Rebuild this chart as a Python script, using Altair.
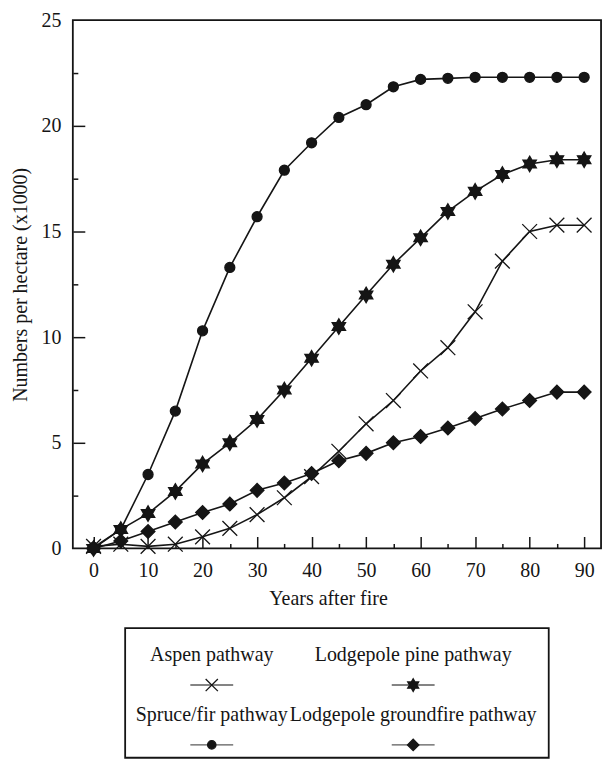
import altair as alt
import pandas as pd

years = list(range(0, 95, 5))
aspen = [0.1, 0.2, 0.1, 0.2, 0.55, 0.95, 1.6, 2.4, 3.4, 4.6, 5.9, 7.0, 8.4, 9.5, 11.2, 13.6, 15.0, 15.3, 15.3]
spruce = [0.05, 0.9, 3.5, 6.5, 10.3, 13.3, 15.7, 17.9, 19.2, 20.4, 21.0, 21.85, 22.2, 22.25, 22.3, 22.3, 22.3, 22.3, 22.3]
pine = [0.0, 0.9, 1.65, 2.7, 4.0, 5.0, 6.1, 7.5, 9.0, 10.5, 12.0, 13.45, 14.7, 15.95, 16.9, 17.7, 18.2, 18.4, 18.4]
groundfire = [0.0, 0.35, 0.8, 1.25, 1.7, 2.1, 2.75, 3.1, 3.55, 4.15, 4.5, 5.0, 5.3, 5.7, 6.15, 6.6, 7.0, 7.4, 7.4]

series_names = ["Aspen pathway", "Lodgepole pine pathway", "Spruce/fir pathway", "Lodgepole groundfire pathway"]
series_values = [aspen, pine, spruce, groundfire]

x_label_values = list(range(0, 100, 10))
x_major_ticks = list(range(0, 100, 10))
x_minor_ticks = list(range(5, 90, 10))
y_label_values = [0, 5, 10, 15, 20, 25]
y_major_ticks = [5, 10, 15, 20]
y_minor_ticks = [2.5, 7.5, 12.5, 17.5, 22.5]

X_PATH = "M-1,-1L1,1M-1,1L1,-1"
STAR_PATH = "M0,-1L0.866,0.5L-0.866,0.5ZM0,1L-0.866,-0.5L0.866,-0.5Z"
shapes = [X_PATH, STAR_PATH, "circle", "diamond"]
plot_sizes = [220, 240, 100, 190]
legend_sizes = [150, 160, 70, 130]

rows = []
for name, vals in zip(series_names, series_values):
    for yr, v in zip(years, vals):
        rows.append({"year": yr, "value": v, "series": name})
df = pd.DataFrame(rows)

FONT = "Liberation Serif"
INK = "#151515"

x_scale = alt.Scale(domain=[-3.8, 93.1], nice=False, zero=False)
y_scale = alt.Scale(domain=[0, 25], nice=False)

base = alt.Chart(df)

lines = base.mark_line(color=INK, strokeWidth=1.6).encode(
    x=alt.X("year:Q", scale=x_scale,
            axis=alt.Axis(orient="bottom", values=x_label_values, ticks=False, domain=False, grid=False,
                          labelPadding=12, labelFontSize=20, labelFlush=False,
                          title="Years after fire", titleFontSize=20, titlePadding=8,
                          titleFontWeight="normal", titleX=256)),
    y=alt.Y("value:Q", scale=y_scale,
            axis=alt.Axis(orient="left", values=y_label_values, ticks=False, domain=False, grid=False,
                          labelPadding=12, labelFontSize=20, labelFlush=False,
                          title="Numbers per hectare (x1000)", titleFontSize=20, titlePadding=10,
                          titleFontWeight="normal")),
    detail="series:N",
)


def tick_layer(xv, yv, size):
    return base.mark_point(opacity=0).encode(
        x=alt.X("year:Q", scale=x_scale,
                axis=alt.Axis(orient="bottom", values=xv, labels=False, title=None, domain=False,
                              grid=False, ticks=True, tickSize=size, offset=-size, tickWidth=1.5,
                              tickColor=INK)),
        y=alt.Y("value:Q", scale=y_scale,
                axis=alt.Axis(orient="left", values=yv, labels=False, title=None, domain=False,
                              grid=False, ticks=True, tickSize=size, offset=-size, tickWidth=1.5,
                              tickColor=INK)),
    )


major = tick_layer(x_major_ticks, y_major_ticks, 12)
minor = tick_layer(x_minor_ticks, y_minor_ticks, 5)

point_layers = []
for name, shp, sz in zip(series_names, shapes, plot_sizes):
    point_layers.append(
        base.transform_filter(alt.datum.series == name).mark_point(
            shape=shp, size=sz, filled=True, fill=INK, stroke=INK, strokeWidth=1.3, opacity=1
        ).encode(
            x=alt.X("year:Q", scale=x_scale, axis=None),
            y=alt.Y("value:Q", scale=y_scale, axis=None),
        )
    )

main = alt.layer(lines, major, minor, *point_layers).resolve_axis(
    x="independent", y="independent"
).properties(width=530, height=530)

leg_rows = []
for i, name in enumerate(series_names):
    leg_rows.append({"series": name, "col": i % 2, "row_text": (i // 2) * 2, "row_sym": (i // 2) * 2 + 1})
leg_df = pd.DataFrame(leg_rows)

lx = alt.Scale(domain=[-0.43, 1.673], nice=False, zero=False)
ly = alt.Scale(domain=[-0.9, 3.43], nice=False, zero=False, reverse=True)

leg_base = alt.Chart(leg_df)
leg_text = leg_base.mark_text(font=FONT, fontSize=20, color=INK).encode(
    x=alt.X("col:Q", scale=lx, axis=None),
    y=alt.Y("row_text:Q", scale=ly, axis=None),
    text="series:N",
)
leg_line = leg_base.mark_tick(orient="horizontal", size=43, thickness=1.5, color=INK).encode(
    x=alt.X("col:Q", scale=lx, axis=None),
    y=alt.Y("row_sym:Q", scale=ly, axis=None),
)
leg_pts = []
for name, shp, sz in zip(series_names, shapes, legend_sizes):
    leg_pts.append(
        leg_base.transform_filter(alt.datum.series == name).mark_point(
            shape=shp, size=sz, filled=True, fill=INK, stroke=INK, strokeWidth=1.3, opacity=1
        ).encode(
            x=alt.X("col:Q", scale=lx, axis=None),
            y=alt.Y("row_sym:Q", scale=ly, axis=None),
        )
    )
legend = alt.layer(leg_text, leg_line, *leg_pts).properties(width=425, height=130)

chart = alt.vconcat(main, legend, spacing=18, center=True).properties(
    padding={"left": 2, "top": 0, "right": 0, "bottom": 0}
).configure(font=FONT).configure_view(
    stroke=INK, strokeWidth=1.8
).configure_axis(
    labelFont=FONT, titleFont=FONT, labelColor=INK, titleColor=INK
)

chart.save("out.html", embed_options={"renderer": "svg", "actions": False})
